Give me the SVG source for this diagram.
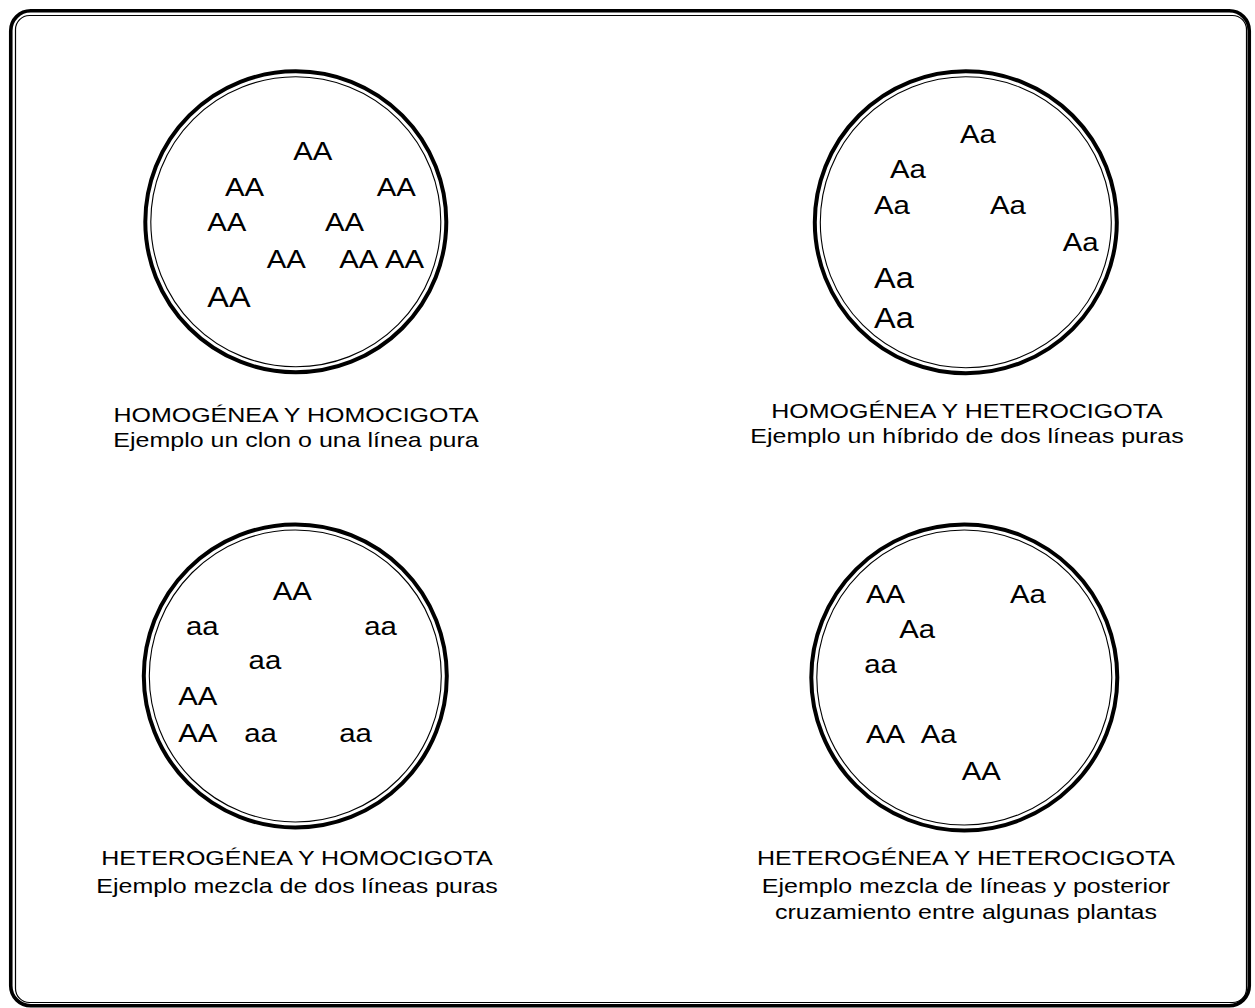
<svg xmlns="http://www.w3.org/2000/svg" width="1255" height="1008" viewBox="0 0 1255 1008">
<style>
.frame-out{fill:none;stroke:#000;stroke-width:3.6}
.frame-in{fill:none;stroke:#000;stroke-width:1.2}
.c-out{fill:#fff;stroke:#000;stroke-width:4}
.c-in{fill:none;stroke:#000;stroke-width:1.1}
.g{font-family:"Liberation Sans",Arial,sans-serif;font-size:25.5px;fill:#000}
.gl{font-family:"Liberation Sans",Arial,sans-serif;font-size:29px;fill:#000}
.lab{font-family:"Liberation Sans",Arial,sans-serif;font-size:21px;fill:#000;text-anchor:middle}
</style>
<rect width="1255" height="1008" fill="#fff"/>
<g id="frame">
<rect class="frame-out" x="10.75" y="10.75" width="1238.5" height="995" rx="20"/>
<rect class="frame-in" x="15.5" y="15.5" width="1231" height="987" rx="14"/>
</g>
<g id="connectors"></g>
<g id="pop-homogenea-homocigota">
<circle class="c-out" cx="295.8" cy="221.8" r="150.5"/>
<circle class="c-in" cx="295.8" cy="221.8" r="145"/>
<text class="g" transform="matrix(1.15 0 0 1 293.3 160)">AA</text>
<text class="g" transform="matrix(1.15 0 0 1 225 196)">AA</text>
<text class="g" transform="matrix(1.15 0 0 1 376.7 196)">AA</text>
<text class="g" transform="matrix(1.15 0 0 1 207.3 230.7)">AA</text>
<text class="g" transform="matrix(1.15 0 0 1 325 230.7)">AA</text>
<text class="g" transform="matrix(1.15 0 0 1 266.7 268.3)">AA</text>
<text class="g" transform="matrix(1.15 0 0 1 339.3 268.3)">AA</text>
<text class="g" transform="matrix(1.15 0 0 1 385 268.3)">AA</text>
<text class="gl" transform="matrix(1.12 0 0 1 207.3 306.7)">AA</text>
<text class="lab" transform="matrix(1.19 0 0 1 296 422)">HOMOGÉNEA Y HOMOCIGOTA</text>
<text class="lab" transform="matrix(1.19 0 0 1 296 447)">Ejemplo un clon o una línea pura</text>
</g>
<g id="pop-homogenea-heterocigota">
<circle class="c-out" cx="965.8" cy="222.3" r="151"/>
<circle class="c-in" cx="965.8" cy="222.3" r="145.5"/>
<text class="g" transform="matrix(1.15 0 0 1 960 142.7)">Aa</text>
<text class="g" transform="matrix(1.15 0 0 1 890 178.3)">Aa</text>
<text class="g" transform="matrix(1.15 0 0 1 874 214)">Aa</text>
<text class="g" transform="matrix(1.15 0 0 1 990 214)">Aa</text>
<text class="g" transform="matrix(1.15 0 0 1 1062.7 250.7)">Aa</text>
<text class="gl" transform="matrix(1.12 0 0 1 874 288.3)">Aa</text>
<text class="gl" transform="matrix(1.12 0 0 1 874 328.3)">Aa</text>
<text class="lab" transform="matrix(1.19 0 0 1 967 418)">HOMOGÉNEA Y HETEROCIGOTA</text>
<text class="lab" transform="matrix(1.19 0 0 1 967 443)">Ejemplo un híbrido de dos líneas puras</text>
</g>
<g id="pop-heterogenea-homocigota">
<circle class="c-out" cx="295.3" cy="676" r="151.5"/>
<circle class="c-in" cx="295.3" cy="676" r="146"/>
<text class="g" transform="matrix(1.15 0 0 1 272.7 600)">AA</text>
<text class="g" transform="matrix(1.15 0 0 1 186 635)">aa</text>
<text class="g" transform="matrix(1.15 0 0 1 364.3 635)">aa</text>
<text class="g" transform="matrix(1.15 0 0 1 248.6 669)">aa</text>
<text class="g" transform="matrix(1.15 0 0 1 178.3 705)">AA</text>
<text class="g" transform="matrix(1.15 0 0 1 178.3 741.7)">AA</text>
<text class="g" transform="matrix(1.15 0 0 1 244.3 741.7)">aa</text>
<text class="g" transform="matrix(1.15 0 0 1 339.3 741.7)">aa</text>
<text class="lab" transform="matrix(1.19 0 0 1 297 865)">HETEROGÉNEA Y HOMOCIGOTA</text>
<text class="lab" transform="matrix(1.19 0 0 1 297 893)">Ejemplo mezcla de dos líneas puras</text>
</g>
<g id="pop-heterogenea-heterocigota">
<circle class="c-out" cx="964.3" cy="677.5" r="153"/>
<circle class="c-in" cx="964.3" cy="677.5" r="147.5"/>
<text class="g" transform="matrix(1.15 0 0 1 866 603.3)">AA</text>
<text class="g" transform="matrix(1.15 0 0 1 1010 603.3)">Aa</text>
<text class="g" transform="matrix(1.15 0 0 1 899.3 638.3)">Aa</text>
<text class="g" transform="matrix(1.15 0 0 1 864.3 673.3)">aa</text>
<text class="g" transform="matrix(1.15 0 0 1 866 742.7)">AA</text>
<text class="g" transform="matrix(1.15 0 0 1 920.7 742.7)">Aa</text>
<text class="g" transform="matrix(1.15 0 0 1 961.7 780)">AA</text>
<text class="lab" transform="matrix(1.19 0 0 1 966 865)">HETEROGÉNEA Y HETEROCIGOTA</text>
<text class="lab" transform="matrix(1.19 0 0 1 966 893)">Ejemplo mezcla de líneas y posterior</text>
<text class="lab" transform="matrix(1.19 0 0 1 966 919)">cruzamiento entre algunas plantas</text>
</g>
</svg>
